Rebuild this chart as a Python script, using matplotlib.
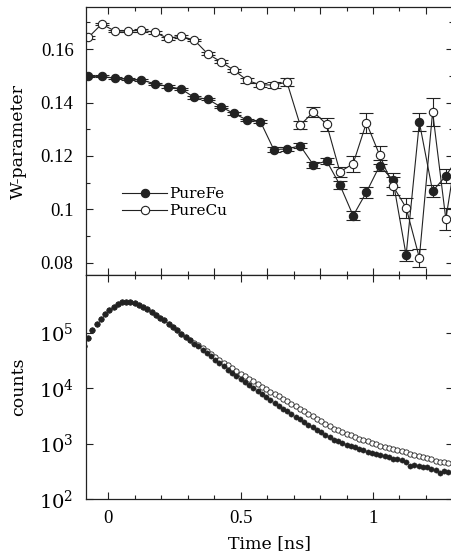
import numpy as np
import matplotlib
matplotlib.use("Agg")
import matplotlib.pyplot as plt
from matplotlib.lines import Line2D
from matplotlib.ticker import FixedLocator, MultipleLocator, NullLocator

plt.rcParams['font.family'] = 'DejaVu Serif'
plt.rcParams['mathtext.fontset'] = 'stix'

# --- W-parameter vs time (top panel) ---
w_time = [-0.075, -0.025, 0.025, 0.075, 0.125, 0.175, 0.225, 0.275, 0.325, 0.375,
          0.425, 0.475, 0.525, 0.575, 0.625, 0.675, 0.725, 0.775, 0.825, 0.875,
          0.925, 0.975, 1.025, 1.075, 1.125, 1.175, 1.225, 1.275, 1.325]
fe_w = [0.1498, 0.1498, 0.1491, 0.1487, 0.1484, 0.1471, 0.1460, 0.1451, 0.1419, 0.1413,
        0.1384, 0.1359, 0.1334, 0.1328, 0.1224, 0.1226, 0.1238, 0.1166, 0.1181, 0.1091,
        0.0976, 0.1064, 0.1163, 0.1111, 0.0828, 0.1326, 0.1068, 0.1125, 0.1200]
fe_err = [0.0004, 0.0004, 0.0004, 0.0004, 0.0004, 0.0004, 0.0004, 0.0004, 0.0004, 0.0004,
          0.0004, 0.0005, 0.0005, 0.0006, 0.0008, 0.0008, 0.0009, 0.0010, 0.0011, 0.0015,
          0.0017, 0.0020, 0.0020, 0.0026, 0.0020, 0.0033, 0.0023, 0.0027, 0.0030]
cu_w = [0.1644, 0.1694, 0.1668, 0.1668, 0.1671, 0.1663, 0.1641, 0.1648, 0.1634, 0.1583,
        0.1553, 0.1521, 0.1483, 0.1466, 0.1466, 0.1476, 0.1315, 0.1365, 0.1318, 0.1140,
        0.1171, 0.1324, 0.1203, 0.1088, 0.1006, 0.0818, 0.1365, 0.0963, 0.1280]
cu_err = [0.0005, 0.0005, 0.0005, 0.0005, 0.0005, 0.0005, 0.0005, 0.0005, 0.0005, 0.0005,
          0.0006, 0.0006, 0.0008, 0.0009, 0.0011, 0.0015, 0.0016, 0.0020, 0.0024, 0.0020,
          0.0030, 0.0037, 0.0033, 0.0034, 0.0037, 0.0033, 0.0053, 0.0042, 0.0040]

# --- lifetime spectra (bottom panel), one value per channel ---
chan_start = -0.092   # ns
chan_width = 0.016    # ns
fe_log_counts = [4.75, 4.90, 5.05, 5.15, 5.24, 5.33, 5.41, 5.47, 5.52, 5.55,
                 5.56, 5.56, 5.53, 5.50, 5.46, 5.42, 5.37, 5.32, 5.27, 5.22,
                 5.16, 5.10, 5.04, 4.98, 4.92, 4.86, 4.80, 4.75, 4.69, 4.63,
                 4.57, 4.51, 4.45, 4.39, 4.33, 4.27, 4.22, 4.16, 4.11, 4.06,
                 4.00, 3.95, 3.89, 3.84, 3.79, 3.73, 3.68, 3.63, 3.58, 3.53,
                 3.48, 3.44, 3.39, 3.34, 3.29, 3.25, 3.20, 3.15, 3.11, 3.07,
                 3.04, 3.01, 2.98, 2.95, 2.93, 2.90, 2.88, 2.85, 2.83, 2.81,
                 2.79, 2.77, 2.75, 2.73, 2.72, 2.70, 2.66, 2.60, 2.61, 2.59,
                 2.58, 2.57, 2.55, 2.53, 2.46, 2.50, 2.49]
cu_log_counts = [4.75, 4.90, 5.05, 5.15, 5.24, 5.33, 5.41, 5.47, 5.52, 5.55,
                 5.56, 5.56, 5.53, 5.50, 5.46, 5.42, 5.37, 5.32, 5.27, 5.22,
                 5.16, 5.10, 5.04, 4.98, 4.92, 4.87, 4.82, 4.77, 4.72, 4.67,
                 4.62, 4.56, 4.51, 4.46, 4.41, 4.36, 4.31, 4.26, 4.21, 4.17,
                 4.12, 4.07, 4.02, 3.98, 3.93, 3.89, 3.85, 3.81, 3.77, 3.72,
                 3.68, 3.63, 3.59, 3.54, 3.49, 3.45, 3.40, 3.35, 3.31, 3.27,
                 3.24, 3.21, 3.18, 3.15, 3.12, 3.09, 3.07, 3.04, 3.01, 2.99,
                 2.96, 2.94, 2.92, 2.90, 2.88, 2.86, 2.84, 2.82, 2.79, 2.77,
                 2.76, 2.74, 2.72, 2.69, 2.66, 2.67, 2.65]

chan_t = chan_start + chan_width * np.arange(len(fe_log_counts))
fe_counts = 10 ** np.array(fe_log_counts)
cu_counts = 10 ** np.array(cu_log_counts)

ink = '#222222'
tick_font = {'family': 'Liberation Serif', 'size': 13.5}

fig = plt.figure(figsize=(4.51, 5.59), dpi=100)
ax1 = fig.add_axes([0.1907, 0.5072, 0.8137, 0.4803])
ax2 = fig.add_axes([0.1907, 0.1073, 0.8137, 0.3999])

# top panel
ax1.errorbar(w_time, fe_w, yerr=fe_err, fmt='-o', color=ink, lw=0.8, ms=6,
             mfc=ink, mec=ink, mew=0.8, capsize=5, elinewidth=0.8, capthick=0.8)
ax1.errorbar(w_time, cu_w, yerr=cu_err, fmt='-o', color=ink, lw=0.8, ms=6,
             mfc='white', mec=ink, mew=0.8, capsize=5, elinewidth=0.8, capthick=0.8)
ax1.set_ylim(0.0752, 0.1758)
ax1.yaxis.set_major_locator(FixedLocator([0.08, 0.10, 0.12, 0.14, 0.16]))
ax1.set_yticklabels(['0.08', '0.1', '0.12', '0.14', '0.16'], fontdict=tick_font)
ax1.yaxis.set_minor_locator(MultipleLocator(0.01))
ax1.set_ylabel('W-parameter', fontsize=12.5)
ax1.tick_params(labelbottom=False)
handles = [Line2D([], [], color=ink, lw=0.8, marker='o', ms=6, mfc=ink, mec=ink, mew=0.8),
           Line2D([], [], color=ink, lw=0.8, marker='o', ms=6, mfc='white', mec=ink, mew=0.8)]
ax1.legend(handles, ['PureFe', 'PureCu'], loc='upper left', bbox_to_anchor=(0.097, 0.33),
           frameon=False, fontsize=11, handlelength=3.0, handletextpad=0.1,
           labelspacing=0.2, borderpad=0, borderaxespad=0)

# bottom panel
ax2.plot(chan_t, cu_counts, 'o', ms=3.8, mfc='white', mec=ink, mew=0.6, ls='none')
ax2.plot(chan_t, fe_counts, 'o', ms=3.8, mfc=ink, mec=ink, mew=0.3, ls='none')
ax2.set_yscale('log')
ax2.set_ylim(1e2, 1.07e6)
ax2.yaxis.set_major_locator(FixedLocator([1e2, 1e3, 1e4, 1e5]))
ax2.yaxis.set_minor_locator(NullLocator())
ax2.set_ylabel('counts', fontsize=12.5)
ax2.set_xlabel('Time [ns]', fontsize=12.5, labelpad=6)
ax2.set_xticks([0, 0.5, 1])
ax2.set_xticklabels(['0', '0.5', '1'], fontdict=tick_font)
for lab in ax2.get_yticklabels():
    lab.set_fontsize(14)

for ax in (ax1, ax2):
    ax.set_xlim(-0.084, 1.302)
    ax.xaxis.set_minor_locator(MultipleLocator(0.1))
    ax.tick_params(which='both', direction='in', top=True, right=True,
                   color=ink, width=0.8)
    ax.tick_params(which='major', length=5)
    ax.tick_params(which='minor', length=3)
    ax.tick_params(axis='y', pad=9)
    ax.tick_params(axis='x', pad=8)
    ax.yaxis.set_label_coords(-0.161, 0.5)
    for s in ax.spines.values():
        s.set_linewidth(0.9)
        s.set_color(ink)

fig.savefig('out.png', dpi=100)
